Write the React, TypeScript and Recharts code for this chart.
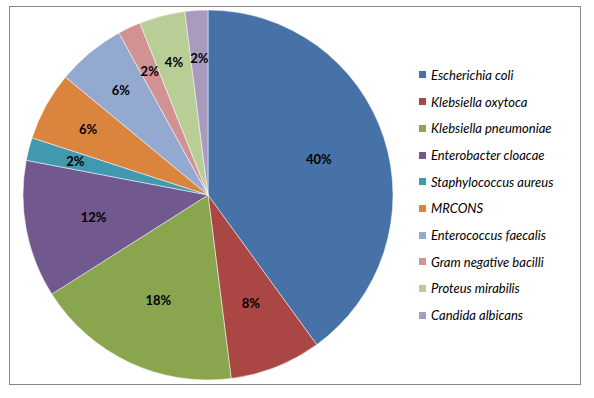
import React from 'react';
import { PieChart, Pie, Cell, Legend } from 'recharts';

const organisms = [
  'Escherichia coli',
  'Klebsiella oxytoca',
  'Klebsiella pneumoniae',
  'Enterobacter cloacae',
  'Staphylococcus aureus',
  'MRCONS',
  'Enterococcus faecalis',
  'Gram negative bacilli',
  'Proteus mirabilis',
  'Candida albicans',
];
const shares = [40, 8, 18, 12, 2, 6, 6, 2, 4, 2];
const colors = [
  '#4672A8', '#AA4643', '#89A54E', '#71588F', '#4198AF',
  '#DB843D', '#93A9CF', '#D19392', '#B9CD96', '#A99BBD',
];

const RADIAN = Math.PI / 180;

const renderLabel = (props: any) => {
  const { cx, cy, midAngle, outerRadius, value } = props;
  // small slices sit further out, like Excel's best fit
  const r = outerRadius * (value >= 8 ? 0.63 : 0.74);
  const x = cx + r * Math.cos(-midAngle * RADIAN);
  const y = cy + r * Math.sin(-midAngle * RADIAN);
  return (
    <text
      x={x}
      y={y}
      fill="#000"
      textAnchor="middle"
      dominantBaseline="central"
      style={{ fontFamily: 'Lato', fontWeight: 700, fontSize: 13 }}
    >
      {value}%
    </text>
  );
};

const renderLegend = () => (
  <div style={{ fontFamily: 'Lato', fontStyle: 'italic', fontSize: 13, color: '#000' }}>
    {organisms.map((name, i) => (
      <div key={name} style={{ height: 26.7, display: 'flex', alignItems: 'center' }}>
        <span style={{ width: 7, height: 7, background: colors[i], marginRight: 5, display: 'inline-block' }} />
        <span>{name}</span>
      </div>
    ))}
  </div>
);

const App: React.FC = () => {
  const data = organisms.map((name, i) => ({ name, value: shares[i] }));

  return (
    <div style={{ position: 'absolute', left: 0, top: 0, width: 594, height: 398, background: '#fff' }}>
      <div
        style={{
          position: 'absolute',
          left: 9,
          top: 6,
          width: 570,
          height: 377,
          border: '1px solid #868686',
        }}
      />
      <div style={{ position: 'absolute', left: 0, top: 0 }}>
        <PieChart width={594} height={398} margin={{ top: 0, right: 0, bottom: 0, left: 0 }}>
          <Pie
            data={data}
            dataKey="value"
            nameKey="name"
            cx={208}
            cy={195}
            outerRadius={185}
            startAngle={90}
            endAngle={-270}
            stroke="#fff"
            strokeWidth={0.5}
            label={renderLabel}
            labelLine={false}
            isAnimationActive={false}
          >
            {data.map((d, i) => (
              <Cell key={d.name} fill={colors[i]} />
            ))}
          </Pie>
          <Legend
            layout="vertical"
            content={renderLegend}
            wrapperStyle={{ left: 419, top: 61.6, width: 170 }}
          />
        </PieChart>
      </div>
    </div>
  );
};

export default App;
